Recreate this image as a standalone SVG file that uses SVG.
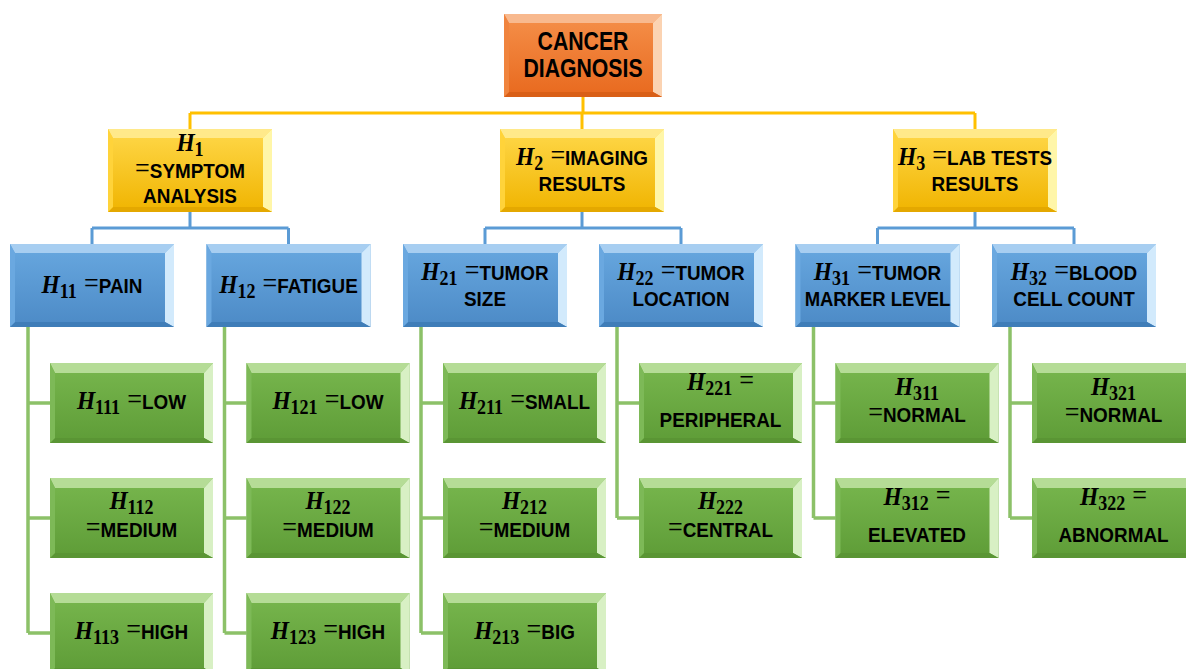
<svg xmlns="http://www.w3.org/2000/svg" xmlns:xlink="http://www.w3.org/1999/xlink" width="1186" height="669" viewBox="0 0 1186 669">
<style>
.t{font-family:"Liberation Sans",Arial,sans-serif;font-weight:bold;font-size:21px;fill:#000;text-anchor:middle}
.root{font-size:25px}
.mi{font-family:"Liberation Serif","Times New Roman",serif;font-style:italic;font-weight:bold;font-size:26px}
.sb{font-family:"Liberation Serif","Times New Roman",serif;font-weight:bold;font-size:20px}
.mo{font-family:"Liberation Serif","Times New Roman",serif;font-weight:normal;font-size:29px}
.cy{fill:none;stroke:#FFC000;stroke-width:3}
.cb{fill:none;stroke:#5B9BD5;stroke-width:3}
.cg{fill:none;stroke:#8CC168;stroke-width:3.5}
</style>
<defs>
<linearGradient id="gO" x1="0" y1="0" x2="0" y2="1"><stop offset="0" stop-color="#F5904A"/><stop offset="1" stop-color="#E8691E"/></linearGradient>
<linearGradient id="gY" x1="0" y1="0" x2="0" y2="1"><stop offset="0" stop-color="#FFD84A"/><stop offset="1" stop-color="#F0B400"/></linearGradient>
<linearGradient id="gB" x1="0" y1="0" x2="0" y2="1"><stop offset="0" stop-color="#68A8E0"/><stop offset="1" stop-color="#4C8AC6"/></linearGradient>
<linearGradient id="gG" x1="0" y1="0" x2="0" y2="1"><stop offset="0" stop-color="#78B74E"/><stop offset="1" stop-color="#5E9C37"/></linearGradient>
<g id="boxO">
<rect width="158" height="83" fill="url(#gO)"/>
<polygon points="0,0 158,0 149,9 5,9" fill="#F8B98E"/>
<polygon points="158,0 158,83 149,78 149,9" fill="#FBD3B2"/>
<polygon points="0,83 158,83 149,78 5,78" fill="#D95F17"/>
<polygon points="0,0 5,9 5,78 0,83" fill="#F0843E"/>
</g>
<g id="boxY">
<rect width="164" height="83" fill="url(#gY)"/>
<polygon points="0,0 164,0 155,9 5,9" fill="#FFE98A"/>
<polygon points="164,0 164,83 155,78 155,9" fill="#FFF6A8"/>
<polygon points="0,83 164,83 155,78 5,78" fill="#E4A800"/>
<polygon points="0,0 5,9 5,78 0,83" fill="#FFD33A"/>
</g>
<g id="boxB">
<rect width="164" height="83" fill="url(#gB)"/>
<polygon points="0,0 164,0 155,9 5,9" fill="#A7CEF1"/>
<polygon points="164,0 164,83 155,78 155,9" fill="#D2EAFC"/>
<polygon points="0,83 164,83 155,78 5,78" fill="#3F7DB8"/>
<polygon points="0,0 5,9 5,78 0,83" fill="#6AA8E0"/>
</g>
<g id="boxG">
<rect width="163" height="80" fill="url(#gG)"/>
<polygon points="0,0 163,0 154,10 5,10" fill="#B5DC96"/>
<polygon points="163,0 163,80 154,75 154,10" fill="#D8F0C4"/>
<polygon points="0,80 163,80 154,75 5,75" fill="#5A9534"/>
<polygon points="0,0 5,10 5,75 0,80" fill="#7DB957"/>
</g>
</defs>
<rect width="1186" height="669" fill="#FFFFFF"/>
<g id="connectors">
<path class="cy" d="M583,97V113M190,113H975M190,113V129M582,113V129M975,113V129"/>
<path class="cb" d="M190,212V228M92,228H288.5M92,228V244M288.5,228V244"/>
<path class="cb" d="M582,212V228M485,228H681M485,228V244M681,228V244"/>
<path class="cb" d="M975,212V228M877.5,228H1074M877.5,228V244M1074,228V244"/>
<path class="cg" d="M28,327V633M28,403H50M28,518H50M28,633H50"/>
<path class="cg" d="M224.5,327V633M224.5,403H246.5M224.5,518H246.5M224.5,633H246.5"/>
<path class="cg" d="M421,327V633M421,403H443M421,518H443M421,633H443"/>
<path class="cg" d="M617,327V518M617,403H639M617,518H639"/>
<path class="cg" d="M813.5,327V518M813.5,403H835.5M813.5,518H835.5"/>
<path class="cg" d="M1010,327V518M1010,403H1032M1010,518H1032"/>
</g>
<g id="n-root"><use xlink:href="#boxO" x="504" y="14"/>
<text class="t root" transform="translate(583,50) scale(.85,1)">CANCER</text>
<text class="t root" transform="translate(583,77) scale(.85,1)">DIAGNOSIS</text></g>
<g id="n-h1"><use xlink:href="#boxY" x="108" y="129"/>
<text class="t" transform="translate(190,151) scale(.9,1)"><tspan class="mi">H</tspan><tspan class="sb" dy="5">1</tspan></text>
<text class="t" transform="translate(190,178) scale(.9,1)"><tspan class="mo">=</tspan>SYMPTOM</text>
<text class="t" transform="translate(190,203) scale(.9,1)">ANALYSIS</text></g>
<g id="n-h2"><use xlink:href="#boxY" x="500" y="129"/>
<text class="t" transform="translate(582,165) scale(.9,1)"><tspan class="mi">H</tspan><tspan class="sb" dy="5">2</tspan><tspan class="mo" dy="-5" dx="8">=</tspan>IMAGING</text>
<text class="t" transform="translate(582,191) scale(.9,1)">RESULTS</text></g>
<g id="n-h3"><use xlink:href="#boxY" x="893" y="129"/>
<text class="t" transform="translate(975,165) scale(.9,1)"><tspan class="mi">H</tspan><tspan class="sb" dy="5">3</tspan><tspan class="mo" dy="-5" dx="8">=</tspan>LAB TESTS</text>
<text class="t" transform="translate(975,191) scale(.9,1)">RESULTS</text></g>
<g id="n-h11"><use xlink:href="#boxB" x="10" y="244"/>
<text class="t" transform="translate(92,293) scale(.9,1)"><tspan class="mi">H</tspan><tspan class="sb" dy="5">11</tspan><tspan class="mo" dy="-5" dx="8">=</tspan>PAIN</text></g>
<g id="n-h12"><use xlink:href="#boxB" x="206.5" y="244"/>
<text class="t" transform="translate(288.5,293) scale(.9,1)"><tspan class="mi">H</tspan><tspan class="sb" dy="5">12</tspan><tspan class="mo" dy="-5" dx="8">=</tspan>FATIGUE</text></g>
<g id="n-h21"><use xlink:href="#boxB" x="403" y="244"/>
<text class="t" transform="translate(485,280) scale(.9,1)"><tspan class="mi">H</tspan><tspan class="sb" dy="5">21</tspan><tspan class="mo" dy="-5" dx="8">=</tspan>TUMOR</text>
<text class="t" transform="translate(485,306) scale(.9,1)">SIZE</text></g>
<g id="n-h22"><use xlink:href="#boxB" x="599" y="244"/>
<text class="t" transform="translate(681,280) scale(.9,1)"><tspan class="mi">H</tspan><tspan class="sb" dy="5">22</tspan><tspan class="mo" dy="-5" dx="8">=</tspan>TUMOR</text>
<text class="t" transform="translate(681,306) scale(.9,1)">LOCATION</text></g>
<g id="n-h31"><use xlink:href="#boxB" x="795.5" y="244"/>
<text class="t" transform="translate(877.5,280) scale(.9,1)"><tspan class="mi">H</tspan><tspan class="sb" dy="5">31</tspan><tspan class="mo" dy="-5" dx="8">=</tspan>TUMOR</text>
<text class="t" transform="translate(877.5,306) scale(.88,1)">MARKER LEVEL</text></g>
<g id="n-h32"><use xlink:href="#boxB" x="992" y="244"/>
<text class="t" transform="translate(1074,280) scale(.9,1)"><tspan class="mi">H</tspan><tspan class="sb" dy="5">32</tspan><tspan class="mo" dy="-5" dx="8">=</tspan>BLOOD</text>
<text class="t" transform="translate(1074,306) scale(.9,1)">CELL COUNT</text></g>
<g id="n-h111"><use xlink:href="#boxG" x="50" y="363"/>
<text class="t" transform="translate(131.5,409) scale(.9,1)"><tspan class="mi">H</tspan><tspan class="sb" dy="5">111</tspan><tspan class="mo" dy="-5" dx="8">=</tspan>LOW</text></g>
<g id="n-h112"><use xlink:href="#boxG" x="50" y="478"/>
<text class="t" transform="translate(131.5,509) scale(.9,1)"><tspan class="mi">H</tspan><tspan class="sb" dy="5">112</tspan></text>
<text class="t" transform="translate(131.5,537) scale(.9,1)"><tspan class="mo">=</tspan>MEDIUM</text></g>
<g id="n-h113"><use xlink:href="#boxG" x="50" y="593"/>
<text class="t" transform="translate(131.5,639) scale(.9,1)"><tspan class="mi">H</tspan><tspan class="sb" dy="5">113</tspan><tspan class="mo" dy="-5" dx="8">=</tspan>HIGH</text></g>
<g id="n-h121"><use xlink:href="#boxG" x="246.5" y="363"/>
<text class="t" transform="translate(328,409) scale(.9,1)"><tspan class="mi">H</tspan><tspan class="sb" dy="5">121</tspan><tspan class="mo" dy="-5" dx="8">=</tspan>LOW</text></g>
<g id="n-h122"><use xlink:href="#boxG" x="246.5" y="478"/>
<text class="t" transform="translate(328,509) scale(.9,1)"><tspan class="mi">H</tspan><tspan class="sb" dy="5">122</tspan></text>
<text class="t" transform="translate(328,537) scale(.9,1)"><tspan class="mo">=</tspan>MEDIUM</text></g>
<g id="n-h123"><use xlink:href="#boxG" x="246.5" y="593"/>
<text class="t" transform="translate(328,639) scale(.9,1)"><tspan class="mi">H</tspan><tspan class="sb" dy="5">123</tspan><tspan class="mo" dy="-5" dx="8">=</tspan>HIGH</text></g>
<g id="n-h211"><use xlink:href="#boxG" x="443" y="363"/>
<text class="t" transform="translate(524.5,409) scale(.9,1)"><tspan class="mi">H</tspan><tspan class="sb" dy="5">211</tspan><tspan class="mo" dy="-5" dx="8">=</tspan>SMALL</text></g>
<g id="n-h212"><use xlink:href="#boxG" x="443" y="478"/>
<text class="t" transform="translate(524.5,509) scale(.9,1)"><tspan class="mi">H</tspan><tspan class="sb" dy="5">212</tspan></text>
<text class="t" transform="translate(524.5,537) scale(.9,1)"><tspan class="mo">=</tspan>MEDIUM</text></g>
<g id="n-h213"><use xlink:href="#boxG" x="443" y="593"/>
<text class="t" transform="translate(524.5,639) scale(.9,1)"><tspan class="mi">H</tspan><tspan class="sb" dy="5">213</tspan><tspan class="mo" dy="-5" dx="8">=</tspan>BIG</text></g>
<g id="n-h221"><use xlink:href="#boxG" x="639" y="363"/>
<text class="t" transform="translate(720.5,390) scale(.9,1)"><tspan class="mi">H</tspan><tspan class="sb" dy="5">221</tspan><tspan class="mo" dy="-5" dx="8">=</tspan></text>
<text class="t" transform="translate(720.5,427) scale(.9,1)">PERIPHERAL</text></g>
<g id="n-h222"><use xlink:href="#boxG" x="639" y="478"/>
<text class="t" transform="translate(720.5,509) scale(.9,1)"><tspan class="mi">H</tspan><tspan class="sb" dy="5">222</tspan></text>
<text class="t" transform="translate(720.5,537) scale(.9,1)"><tspan class="mo">=</tspan>CENTRAL</text></g>
<g id="n-h311"><use xlink:href="#boxG" x="835.5" y="363"/>
<text class="t" transform="translate(917,395) scale(.9,1)"><tspan class="mi">H</tspan><tspan class="sb" dy="5">311</tspan></text>
<text class="t" transform="translate(917,422) scale(.9,1)"><tspan class="mo">=</tspan>NORMAL</text></g>
<g id="n-h312"><use xlink:href="#boxG" x="835.5" y="478"/>
<text class="t" transform="translate(917,505) scale(.9,1)"><tspan class="mi">H</tspan><tspan class="sb" dy="5">312</tspan><tspan class="mo" dy="-5" dx="8">=</tspan></text>
<text class="t" transform="translate(917,542) scale(.9,1)">ELEVATED</text></g>
<g id="n-h321"><use xlink:href="#boxG" x="1032" y="363"/>
<text class="t" transform="translate(1113.5,395) scale(.9,1)"><tspan class="mi">H</tspan><tspan class="sb" dy="5">321</tspan></text>
<text class="t" transform="translate(1113.5,422) scale(.9,1)"><tspan class="mo">=</tspan>NORMAL</text></g>
<g id="n-h322"><use xlink:href="#boxG" x="1032" y="478"/>
<text class="t" transform="translate(1113.5,505) scale(.9,1)"><tspan class="mi">H</tspan><tspan class="sb" dy="5">322</tspan><tspan class="mo" dy="-5" dx="8">=</tspan></text>
<text class="t" transform="translate(1113.5,542) scale(.9,1)">ABNORMAL</text></g>
</svg>
